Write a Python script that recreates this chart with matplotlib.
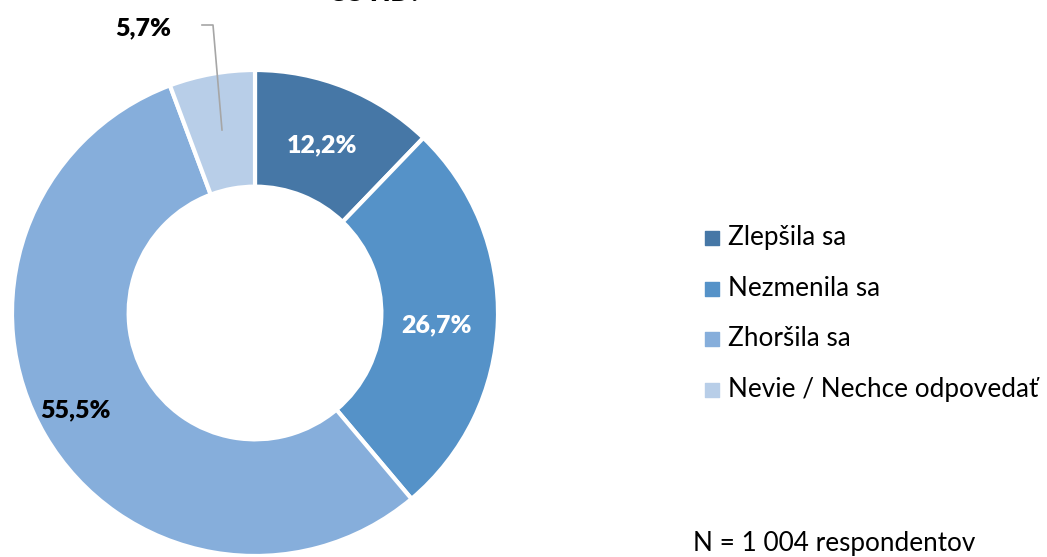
import matplotlib
matplotlib.use("Agg")
import matplotlib.pyplot as plt

categories = ["Zlepšila sa", "Nezmenila sa", "Zhoršila sa", "Nevie / Nechce odpovedať"]
values = [12.2, 26.7, 55.5, 5.7]
labels = ["12,2%", "26,7%", "55,5%", "5,7%"]
colors = ["#4677A6", "#5592C8", "#86AEDB", "#B8CEE8"]

plt.rcParams["font.family"] = ["Lato", "DejaVu Sans"]

W, H = 1047, 557
fig = plt.figure(figsize=(W / 100, H / 100), dpi=100)
ax = fig.add_axes([0, 0, 1, 1])

cx, cy, r = 255, H - 313, 243
ax.pie(values, colors=colors, startangle=90, counterclock=False,
       center=(cx, cy), radius=r, frame=True,
       wedgeprops=dict(width=r * 0.48, edgecolor="white", linewidth=3))
ax.set_xlim(0, W)
ax.set_ylim(0, H)
ax.axis("off")

# data labels (pixel positions)
lab_pos = [(322, 145), (437, 325), (75, 410)]
lab_col = ["white", "white", "black"]
for (px, py), txt, c in zip(lab_pos, labels[:3], lab_col):
    ax.text(px, H - py, txt, color=c, fontsize=18, fontweight="heavy",
            ha="center", va="center")

# 5,7% with leader line
ax.text(143, H - 28, labels[3], color="black", fontsize=18, fontweight="heavy",
        ha="center", va="center")
ax.plot([202, 213, 222], [H - 25, H - 25, H - 130], color="#A6A6A6", lw=1.2)

# title fragment cut off at top
ax.text(375, H + 6, "COVID?", fontsize=18, fontweight="heavy", ha="center",
        va="center", clip_on=False)

# legend
for i, (name, c) in enumerate(zip(categories, colors)):
    y = H - (238 + i * 50.5)
    ax.scatter([712], [y], marker="s", s=90, color=c)
    ax.text(728, y, name, fontsize=18.8, ha="left", va="center")

ax.text(693, H - 543, "N = 1 004 respondentov", fontsize=18.8, ha="left", va="center")

fig.savefig("out.png", dpi=100)
